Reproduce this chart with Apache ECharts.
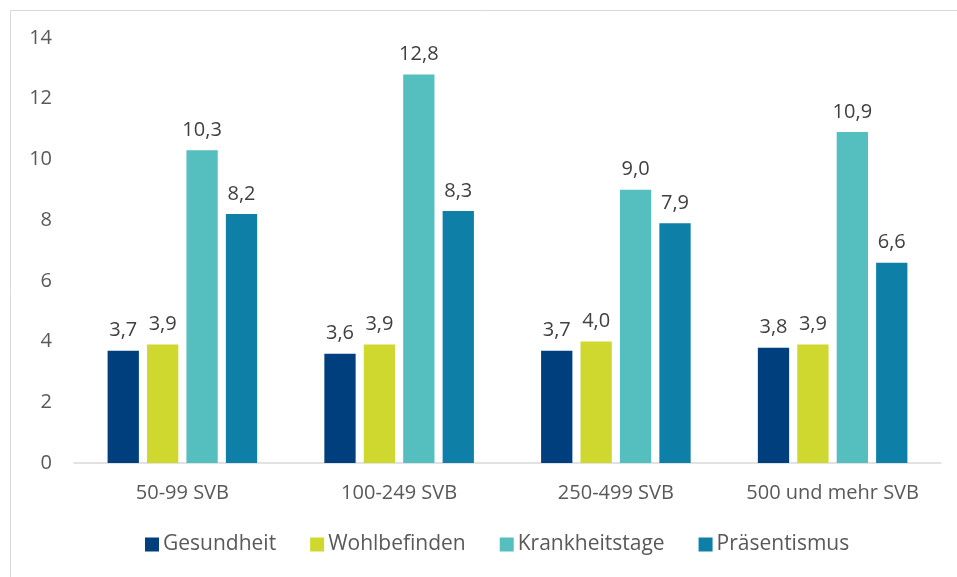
<!DOCTYPE html>
<html lang="de">
  <head>
    <meta charset="utf-8" />
    <title>SVB Vergleich</title>
    <script src="https://cdn.jsdelivr.net/npm/echarts@6.0.0/dist/echarts.min.js"></script>
    <style>
      body { margin: 0; background: #fff; }
      #main { width: 957px; height: 577px; }
    </style>
  </head>
  <body>
    <div id="main"></div>
    <script>
      // data
      var categories = ["50-99 SVB", "100-249 SVB", "250-499 SVB", "500 und mehr SVB"];
      var gesundheit = [3.7, 3.6, 3.7, 3.8];
      var wohlbefinden = [3.9, 3.9, 4.0, 3.9];
      var krankheitstage = [10.3, 12.8, 9.0, 10.9];
      var praesentismus = [8.2, 8.3, 7.9, 6.6];
      var yTicks = [0, 2, 4, 6, 8, 10, 12, 14];

      var font = "Open Sans";
      var chart = echarts.init(document.getElementById("main"));

      function bar(name, data, color) {
        return {
          name: name,
          type: "bar",
          data: data,
          barGap: "26%",
          barCategoryGap: "31%",
          itemStyle: { color: color },
          label: {
            show: true,
            position: "top",
            distance: 10,
            color: "#404040",
            fontFamily: font,
            fontSize: 20,
            formatter: function (p) {
              return p.value.toFixed(1).replace(".", ",");
            },
          },
        };
      }

      var option = {
        animation: false,
        textStyle: { fontFamily: font },
        graphic: [
          {
            type: "rect",
            shape: { x: 10.5, y: 10.5, width: 980, height: 600 },
            style: { fill: "none", stroke: "#d9d9d9", lineWidth: 1 },
            silent: true,
          },
        ],
        grid: { left: 74, right: 16, top: 38, bottom: 114 },
        legend: {
          bottom: 17,
          left: 140,
          itemWidth: 14,
          itemHeight: 14,
          itemGap: 34,
          icon: "rect",
          textStyle: { color: "#595959", fontSize: 21, fontFamily: font, padding: [0, 0, 0, -1] },
          data: ["Gesundheit", "Wohlbefinden", "Krankheitstage", "Präsentismus"],
        },
        xAxis: {
          type: "category",
          data: categories,
          axisLine: { lineStyle: { color: "#d9d9d9", width: 1.5 } },
          axisTick: { show: false },
          axisLabel: { interval: 0, color: "#595959", fontSize: 20, fontFamily: font, margin: 20 },
        },
        yAxis: {
          type: "value",
          min: yTicks[0],
          max: yTicks[yTicks.length - 1],
          interval: 2,
          splitLine: { show: false },
          axisLine: { show: false },
          axisTick: { show: false },
          axisLabel: { color: "#595959", fontSize: 20, fontFamily: font, margin: 22 },
        },
        series: [
          bar("Gesundheit", gesundheit, "#003f7d"),
          bar("Wohlbefinden", wohlbefinden, "#cfd82e"),
          bar("Krankheitstage", krankheitstage, "#55bebf"),
          bar("Präsentismus", praesentismus, "#0e7fa6"),
        ],
      };

      chart.setOption(option);
    </script>
  </body>
</html>
